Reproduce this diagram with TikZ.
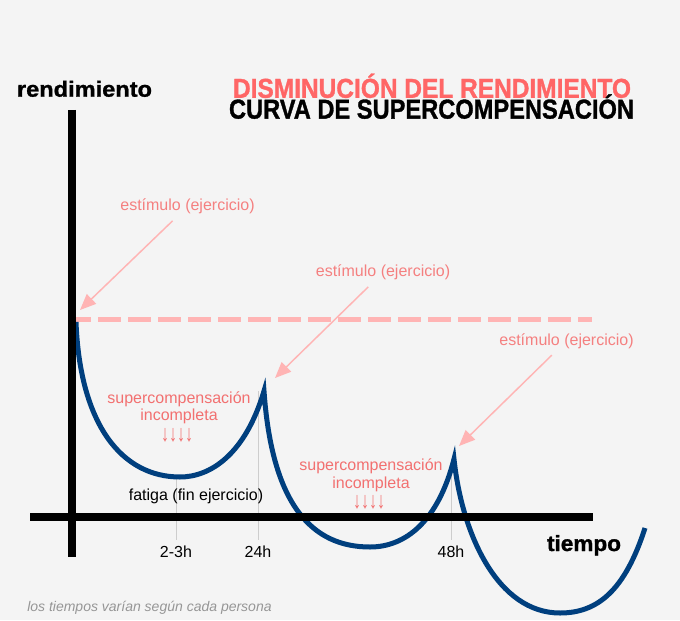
\documentclass[tikz,border=0pt]{standalone}
\usepackage{fontspec}
\setmainfont{Liberation Sans}
\newfontfamily\headfont[FakeBold=1.2]{Liberation Sans Bold}
\usepackage{graphicx}
\usetikzlibrary{arrows.meta}

\definecolor{bgpaper}{RGB}{244,244,244}
\definecolor{titlered}{RGB}{255,102,102}
\definecolor{notepink}{RGB}{242,112,112}
\definecolor{stimpink}{RGB}{244,128,128}
\definecolor{arrowpink}{RGB}{255,180,180}
\definecolor{curveblue}{RGB}{0,63,126}
\definecolor{tickgray}{RGB}{205,205,205}
\definecolor{notegray}{RGB}{150,150,150}

\begin{document}
\begin{tikzpicture}[x=0.75pt,y=0.75pt,yscale=-1,xscale=1,
  axisline/.style={line width=6pt},
  curveline/.style={curveblue,line width=3.75pt},
  levelline/.style={arrowpink,line width=3.75pt,dash pattern=on 17.25pt off 5.25pt},
  stimarrow/.style={arrowpink,line width=1.1pt,shorten <=6pt,-{Triangle[length=12pt,width=10pt]}},
  tickline/.style={tickgray,line width=0.75pt},
  stimtext/.style={stimpink,inner sep=0.75pt,font=\fontsize{12}{13}\selectfont},
  notetext/.style={notepink,inner sep=0.75pt,align=center,font=\fontsize{12}{13}\selectfont},
  plaintext/.style={black,inner sep=0.75pt,font=\fontsize{12}{13}\selectfont},
  axistext/.style={black,inner sep=0.75pt,font=\headfont\fontsize{16.5}{18}\selectfont},
  headtext/.style={inner sep=0pt,font=\headfont\fontsize{20.5}{22}\selectfont}]
%set diagram left start at 0, and has height of 620
\fill [bgpaper] (0,0) rectangle (680,620);

% Points of the curve
\coordinate (top0) at (76,322);
\coordinate (min1) at (180,477);
\coordinate (peak1) at (264,391);
\coordinate (min2) at (370,547);
\coordinate (peak2) at (454,459);
\coordinate (min3) at (560,613);
\coordinate (end3) at (645,528);
% Arrow tips
\coordinate (hit1) at (80,310);
\coordinate (hit2) at (275,378);
\coordinate (hit3) at (459,446);

% Text Node
\node (t23) [plaintext,anchor=base] at (176,557) {2-3h};
% Text Node
\node (t24) [plaintext,anchor=base] at (258,557) {24h};
% Text Node
\node (t48) [plaintext,anchor=base] at (451,557) {48h};

%Shape: Tick lines
\draw [tickline,shorten >=3pt] (t23.north |- min1) -- (t23.north);
\draw [tickline,shorten >=3pt] (t24.north |- peak1) -- (t24.north);
\draw [tickline,shorten >=3pt] (t48.north |- peak2) -- (t48.north);

%Shape: Level line
\draw [levelline] (68,319) -- (592,319);

%Shape: Curve
\draw [curveline] (top0) .. controls (80,425) and (122,477) .. (min1)
  .. controls (210,477) and (245,455) .. (peak1)
  .. controls (272,505) and (312,547) .. (min2)
  .. controls (405,547) and (438,522) .. (peak2)
  .. controls (462,535) and (498,613) .. (min3)
  .. controls (598,613) and (625,590) .. (end3);

%Shape: Axes
\draw [axisline] (72,110) -- (72,557);
\draw [axisline] (30,516.5) -- (593,516.5);

% Text Node
\node (axisy) [axistext,anchor=base] at (84.5,96.7) {\resizebox{101.25pt}{\height}{rendimiento}};
% Text Node
\node (axisx) [axistext,anchor=base] at (584,551) {\resizebox{55.5pt}{\height}{tiempo}};

% Text Node
\node (head1) [headtext,titlered,anchor=base] at (432,97.8) {\resizebox{298.5pt}{\height}{DISMINUCIÓN DEL RENDIMIENTO}};
% Text Node
\node (head2) [headtext,black,anchor=base] at (431.5,118.6) {\resizebox{303.75pt}{\height}{CURVA DE SUPERCOMPENSACIÓN}};

% Text Node
\node (est1) [stimtext,anchor=base] at (187.5,210.7) {estímulo (ejercicio)};
% Text Node
\node (est2) [stimtext,anchor=base] at (383,276.7) {estímulo (ejercicio)};
% Text Node
\node (est3) [stimtext,anchor=base] at (566.5,345) {estímulo (ejercicio)};

%Shape: Stimulus arrows
\draw [stimarrow] (est1) -- (hit1);
\draw [stimarrow] (est2) -- (hit2);
\draw [stimarrow] (est3) -- (hit3);

% Text Node
\node (sup1) [notetext,anchor=base] at (179,420.7) {supercompensación\\incompleta};
% Text Node
\node (down1) [notetext,anchor=north] at (177,427.5) {\scalebox{1}[1.45]{↓↓↓↓}};
% Text Node
\node (sup2) [notetext,anchor=base] at (371,488.3) {supercompensación\\incompleta};
% Text Node
\node (down2) [notetext,anchor=north] at (369,494.5) {\scalebox{1}[1.45]{↓↓↓↓}};

% Text Node
\node (fatiga) [plaintext,anchor=base] at (196,500) {fatiga (fin ejercicio)};

% Text Node
\node (note) [notegray,inner sep=0.75pt,anchor=base west,font=\itshape\fontsize{10.5}{12}\selectfont] at (26,611) {los tiempos varían según cada persona};

\end{tikzpicture}
\end{document}
